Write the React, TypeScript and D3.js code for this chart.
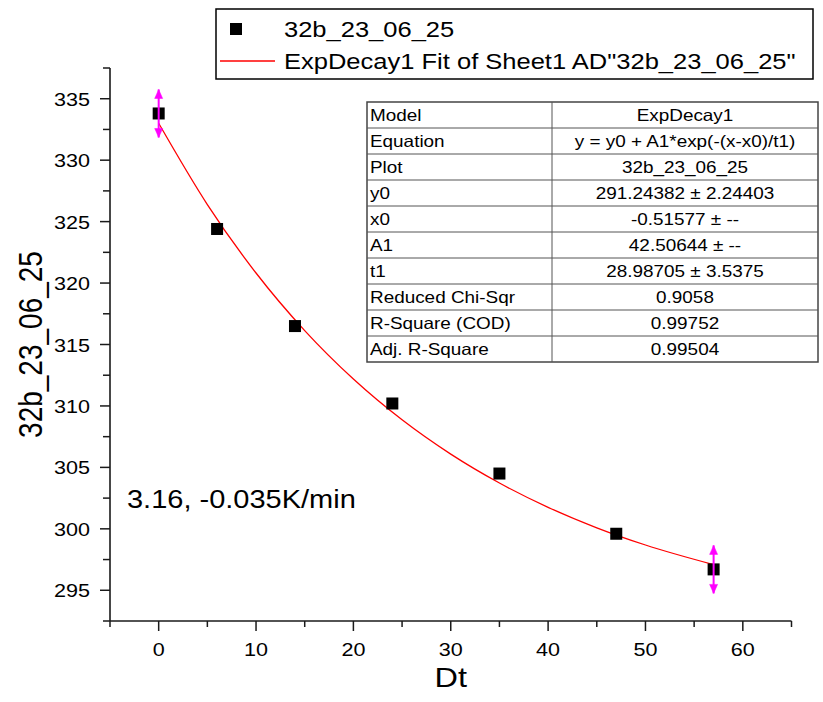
import React from "react";
import * as d3 from "d3";

// ---- data ----
const dtValues = [0, 6, 14, 24, 35, 47, 57];
const tempValues = [333.8, 324.4, 316.5, 310.2, 304.5, 299.6, 296.7];

// ExpDecay1 fit curve, read at sample points
const fitX = [0, 5, 10, 15, 20, 25, 30, 35, 40, 45, 50, 57];
const fitY = [333.0, 326.385, 320.817, 316.132, 312.189, 308.87, 306.078, 303.728, 301.75, 300.085, 298.684, 297.088];

const xMajorTicks = [0, 10, 20, 30, 40, 50, 60];
const xMinorTicks = [-5, 5, 15, 25, 35, 45, 55, 65];
const yMajorTicks = [295, 300, 305, 310, 315, 320, 325, 330, 335];
const yMinorTicks = [292.5, 297.5, 302.5, 307.5, 312.5, 317.5, 322.5, 327.5, 332.5, 337.5];

const seriesName = "32b_23_06_25";
const fitName = 'ExpDecay1 Fit of Sheet1 AD"32b_23_06_25"';
const xTitle = "Dt";
const yTitle = "32b_23_06_25";
const annotation = "3.16, -0.035K/min";

const tableLabels = ["Model", "Equation", "Plot", "y0", "x0", "A1", "t1", "Reduced Chi-Sqr", "R-Square (COD)", "Adj. R-Square"];
const tableValues = [
  "ExpDecay1",
  "y = y0 + A1*exp(-(x-x0)/t1)",
  "32b_23_06_25",
  "291.24382 ± 2.24403",
  "-0.51577 ± --",
  "42.50644 ± --",
  "28.98705 ± 3.5375",
  "0.9058",
  "0.99752",
  "0.99504",
];
const markedIndices = [0, 6];

// ---- layout ----
const W = 823;
const H = 702;
const FONT = "Arial, 'Liberation Sans', sans-serif";
const SX = 1.16;

const x = d3.scaleLinear().domain([-5, 65]).range([110, 791.5]);
const y = d3.scaleLinear().domain([292.5, 337.5]).range([621, 68]);

function T({ x: tx, y: ty, size, anchor = "start", rotate = 0, children, fill = "#000" }: any) {
  return (
    <text
      transform={`translate(${tx},${ty}) scale(${SX},1)${rotate ? ` rotate(${rotate})` : ""}`}
      fontFamily={FONT}
      fontSize={size}
      textAnchor={anchor}
      fill={fill}
    >
      {children}
    </text>
  );
}

export default function App() {
  const line = d3
    .line<number>()
    .x((_, i) => x(fitX[i]))
    .y((d) => y(d))
    .curve(d3.curveMonotoneX);

  const fitPath = line(fitY) || "";

  const tblLeft = 367;
  const tblRight = 818;
  const tblMid = 552;
  const tblTop = 102;
  const rowH = 26;

  const axisColor = "#1a1a1a";

  return (
    <svg
      width={W}
      height={H}
      style={{ position: "absolute", left: 0, top: 0, background: "#fff" }}
    >
      <rect x={0} y={0} width={W} height={H} fill="#fff" />

      {/* fit curve */}
      <path d={fitPath} fill="none" stroke="#ff0000" strokeWidth={1.3} />

      {/* data points */}
      {dtValues.map((d, i) => (
        <rect
          key={i}
          x={x(d) - 6}
          y={y(tempValues[i]) - 6}
          width={12}
          height={12}
          fill="#000"
        />
      ))}

      {/* magenta markers */}
      {markedIndices.map((i) => {
        const cx = x(dtValues[i]);
        const cy = y(tempValues[i]);
        const top = cy - 24;
        const bot = cy + 24;
        return (
          <g key={i} fill="#ff00ff" stroke="#ff00ff">
            <line x1={cx} x2={cx} y1={top} y2={bot} strokeWidth={2} />
            <path d={`M${cx},${top} L${cx - 4},${top + 9} L${cx + 4},${top + 9} Z`} strokeWidth={0.5} />
            <path d={`M${cx},${bot} L${cx - 4},${bot - 9} L${cx + 4},${bot - 9} Z`} strokeWidth={0.5} />
          </g>
        );
      })}

      {/* axes */}
      <line x1={110} x2={110} y1={y(337.5)} y2={y(292.5)} stroke={axisColor} strokeWidth={1.6} />
      <line x1={110} x2={x(65)} y1={621} y2={621} stroke={axisColor} strokeWidth={1.6} />

      {yMajorTicks.map((t) => (
        <g key={"ym" + t}>
          <line x1={100} x2={110} y1={y(t)} y2={y(t)} stroke={axisColor} strokeWidth={1.5} />
          <T x={90} y={y(t) + 7} size={18.6} anchor="end">{t}</T>
        </g>
      ))}
      {yMinorTicks.map((t) => (
        <line key={"yn" + t} x1={103} x2={110} y1={y(t)} y2={y(t)} stroke={axisColor} strokeWidth={1.5} />
      ))}
      {xMajorTicks.map((t) => (
        <g key={"xm" + t}>
          <line x1={x(t)} x2={x(t)} y1={621} y2={631} stroke={axisColor} strokeWidth={1.5} />
          <T x={x(t)} y={656} size={18.6} anchor="middle">{t}</T>
        </g>
      ))}
      {xMinorTicks.map((t) => (
        <line key={"xn" + t} x1={x(t)} x2={x(t)} y1={621} y2={627} stroke={axisColor} strokeWidth={1.5} />
      ))}

      {/* axis titles */}
      <T x={x(30)} y={687} size={28} anchor="middle">{xTitle}</T>
      <T x={42} y={(68 + 621) / 2} size={28} anchor="middle" rotate={-90}>{yTitle}</T>

      {/* annotation */}
      <T x={127} y={508} size={25}>{annotation}</T>

      {/* legend */}
      <rect x={216} y={9} width={597} height={70} fill="#fff" stroke="#000" strokeWidth={1.5} />
      <rect x={230} y={23} width={12} height={12} fill="#000" />
      <T x={284} y={37} size={22}>{seriesName}</T>
      <line x1={220} x2={275} y1={61} y2={61} stroke="#ff0000" strokeWidth={1.3} />
      <T x={284} y={69} size={22}>{fitName}</T>

      {/* fit table */}
      <rect x={tblLeft} y={tblTop} width={tblRight - tblLeft} height={rowH * tableLabels.length} fill="#fff" stroke="#444" strokeWidth={1.5} />
      <line x1={tblMid} x2={tblMid} y1={tblTop} y2={tblTop + rowH * tableLabels.length} stroke="#555" strokeWidth={1} />
      {tableLabels.map((lab, i) => (
        <g key={lab}>
          {i > 0 && (
            <line x1={tblLeft} x2={tblRight} y1={tblTop + i * rowH} y2={tblTop + i * rowH} stroke="#555" strokeWidth={1} />
          )}
          <T x={tblLeft + 3} y={tblTop + i * rowH + 19} size={16.3}>{lab}</T>
          <T x={(tblMid + tblRight) / 2} y={tblTop + i * rowH + 19} size={16.3} anchor="middle">{tableValues[i]}</T>
        </g>
      ))}
    </svg>
  );
}
